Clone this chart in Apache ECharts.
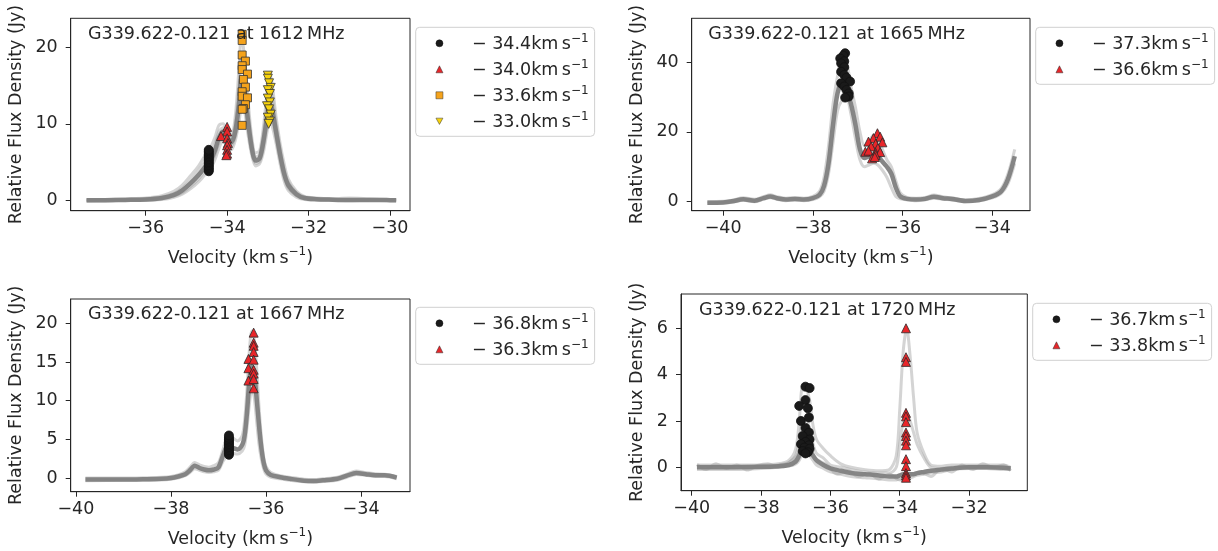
<!DOCTYPE html>
<html><head><meta charset="utf-8">
<script src="https://cdn.jsdelivr.net/npm/echarts@6/dist/echarts.min.js"></script>
<style>html,body{margin:0;padding:0;background:#fff}#c{width:1218px;height:551px}</style>
</head><body><div id="c"></div>
<script>
// ---------- Panel 1: 1612 MHz ----------
const v1 = [-37.45,-37.0,-36.5,-36.0,-35.6,-35.3,-35.1,-34.9,-34.7,-34.55,-34.4,-34.3,-34.2,-34.1,-34.0,-33.9,-33.8,-33.7,-33.65,-33.6,-33.5,-33.4,-33.3,-33.2,-33.1,-33.0,-32.95,-32.9,-32.8,-32.7,-32.6,-32.5,-32.3,-32.1,-31.8,-31.5,-31.0,-30.5,-30.0,-29.85];
const p1Mid = [0,0.02,0.05,0.1,0.3,0.7,1.3,2.2,3.3,4.3,5.3,6.5,8.2,9.0,8.3,7.6,9.0,13,16,15.5,11,7,5.2,5.5,8,11.5,12.5,12,9,6,3.5,2,0.8,0.3,0.15,0.1,0.05,0.05,0.02,0];
const p1Hi  = [0.1,0.1,0.2,0.3,0.6,1.2,2.0,3.2,4.5,5.8,7.0,8.2,9.8,10.0,9.2,8.6,11,18,21.7,20,14,8.5,6.2,6.5,10,15,16.3,15.5,11,7.5,4.8,2.8,1.2,0.5,0.3,0.2,0.3,0.2,0.1,0.1];
const p1Q3  = [0.05,0.05,0.1,0.2,0.45,0.9,1.6,2.6,3.9,5.0,6.1,7.3,9.0,9.5,8.8,8.1,10,15.5,19,17.8,12.5,7.8,5.7,6.0,9.0,13.2,14.4,13.8,10,6.8,4.1,2.4,1.0,0.4,0.2,0.15,0.1,0.1,0.05,0.05];
const p1Q1  = [-0.05,0,0.02,0.05,0.2,0.55,1.0,1.8,2.8,3.8,4.7,5.9,7.5,8.4,7.7,7.1,8.4,11.8,14,13.8,10,6.5,4.8,5.1,7.2,10.5,11.3,10.9,8.2,5.4,3.0,1.6,0.6,0.2,0.1,0.05,0,0.02,0,-0.02];
const p1Lo  = [-0.1,-0.1,0,0,0.1,0.4,0.8,1.5,2.4,3.3,4.2,5.3,6.8,7.8,7.2,6.6,7.8,10.5,12,12,9,6,4.5,4.8,6.5,9.5,10.2,9.8,7.5,4.8,2.5,1.3,0.4,0.1,0,0,-0.05,0,-0.05,-0.05];
const p1Circ = [[-34.45,3.8],[-34.45,4.0],[-34.45,4.2],[-34.45,4.4],[-34.45,4.6],[-34.45,4.8],[-34.45,5.0],[-34.45,5.2],[-34.45,5.4],[-34.45,5.6],[-34.45,5.8],[-34.45,6.0],[-34.45,6.2],[-34.45,6.4],[-34.45,6.6]];
const p1Tri = [[-34.0,9.6],[-34.0,9.0],[-34.15,8.4],[-34.0,8.1],[-33.98,7.5],[-34.0,7.2],[-34.0,6.6],[-34.0,6.1],[-34.02,5.9]];
const p1Sq = [[-33.63,21.7],[-33.63,20.9],[-33.63,19.0],[-33.55,18.2],[-33.63,17.6],[-33.63,17.1],[-33.5,16.5],[-33.6,15.8],[-33.55,14.8],[-33.63,14.2],[-33.63,13.6],[-33.5,13.4],[-33.55,12.5],[-33.6,12.0],[-33.63,11.9],[-33.63,9.8]];
const p1Down = [[-33.0,16.3],[-33.0,15.9],[-32.97,15.3],[-32.93,14.7],[-33.0,14.4],[-32.95,13.9],[-33.0,13.3],[-32.95,12.8],[-33.02,12.3],[-32.97,11.9],[-32.93,11.2],[-33.0,10.8],[-32.95,10.3],[-32.98,10.0]];
const p1Names = ['\u221234.4','\u221234.0','\u221233.6','\u221233.0'];
const p1XTicks = [-36,-34,-32,-30];
const p1YTicks = [0,10,20];

// ---------- Panel 2: 1665 MHz ----------
const v2 = [-40.35,-40.0,-39.8,-39.55,-39.3,-39.1,-38.95,-38.8,-38.6,-38.4,-38.2,-38.0,-37.85,-37.75,-37.65,-37.55,-37.45,-37.35,-37.25,-37.15,-37.05,-36.95,-36.85,-36.75,-36.65,-36.55,-36.45,-36.35,-36.25,-36.15,-36.05,-35.9,-35.7,-35.5,-35.3,-35.1,-34.9,-34.6,-34.3,-34.0,-33.8,-33.65,-33.5];
const p2Mid = [-0.3,-0.2,0.1,0.7,0.3,1.0,1.5,1.0,0.6,0.8,0.6,1.0,2.0,4.5,11,22,31,34,32,28,22,15,12.5,13,13.5,13,11.5,10,8,4,1.5,0.8,0.6,0.8,1.4,1.0,0.8,0.2,0.5,1.5,3.0,6.5,13];
const p2Hi  = [0,0.1,0.4,1.1,0.7,1.4,2.0,1.4,1.0,1.2,1.0,1.5,3.0,7.0,16,28,36,42,40,33,27,20,16,17,19,18.5,15,12,10,6,2.5,1.2,1.0,1.2,1.9,1.4,1.1,0.5,0.9,2.0,3.8,8.0,15];
const p2Lo  = [-0.5,-0.4,-0.2,0.4,0.0,0.7,1.1,0.7,0.3,0.5,0.3,0.6,1.4,3.0,8,17,26,29,29.5,25,18,12,10,10.5,11,10.5,9,7,4,1.5,0.8,0.5,0.3,0.5,1.0,0.7,0.5,0,0.2,1.1,2.4,5.2,11];
const p2Circ = [[-37.28,42.5],[-37.32,41.8],[-37.39,41.0],[-37.3,40.2],[-37.37,39.6],[-37.3,38.5],[-37.37,37.2],[-37.3,36.3],[-37.25,35.5],[-37.37,33.9],[-37.17,34.4],[-37.3,33.0],[-37.25,32.0],[-37.2,31.0],[-37.2,30.1],[-37.28,29.8]];
const p2Tri = [[-36.56,19.6],[-36.65,18.2],[-36.5,18.6],[-36.76,17.2],[-36.45,17.0],[-36.6,16.6],[-36.7,15.8],[-36.55,15.4],[-36.83,14.3],[-36.76,14.6],[-36.6,14.0],[-36.5,14.2],[-36.6,13.4],[-36.68,12.4],[-36.62,12.8]];
const p2Names = ['\u221237.3','\u221236.6'];
const p2XTicks = [-40,-38,-36,-34];
const p2YTicks = [0,20,40];

// ---------- Panel 3: 1667 MHz ----------
const v3 = [-39.8,-39.0,-38.5,-38.2,-38.0,-37.85,-37.7,-37.6,-37.5,-37.4,-37.3,-37.2,-37.1,-37.0,-36.9,-36.8,-36.7,-36.6,-36.5,-36.45,-36.4,-36.35,-36.3,-36.25,-36.2,-36.15,-36.1,-36.05,-36.0,-35.9,-35.7,-35.5,-35.2,-35.0,-34.8,-34.5,-34.3,-34.1,-33.9,-33.7,-33.5,-33.25];
const p3Mid = [-0.2,-0.2,-0.15,-0.1,0,0.2,0.5,1.0,1.6,1.3,1.1,1.0,1.1,1.4,3.0,4.2,3.9,3.7,4.3,5.5,8.5,12.5,14.5,13.5,10.5,7.0,4.0,2.0,1.0,0.4,0.1,-0.1,-0.35,-0.4,-0.3,-0.1,0.3,0.65,0.5,0.35,0.35,0.05];
const p3Hi  = [0,0,0.05,0.1,0.2,0.4,0.8,1.4,2.0,1.7,1.5,1.4,1.6,2.0,3.8,5.5,5.2,4.8,5.5,7.5,11.5,16.5,19.0,18.0,14.5,9.5,5.5,2.8,1.5,0.7,0.3,0.1,-0.15,-0.2,-0.1,0.1,0.5,0.9,0.7,0.55,0.5,0.2];
const p3Lo  = [-0.35,-0.3,-0.3,-0.25,-0.15,0,0.3,0.7,1.2,1.0,0.8,0.7,0.8,1.0,2.2,3.0,3.2,3.1,3.5,4.2,6.5,9.5,11.5,10.5,7.5,4.5,2.5,1.2,0.5,0.1,-0.1,-0.3,-0.5,-0.55,-0.45,-0.3,0.1,0.45,0.35,0.2,0.2,-0.1];
const p3Circ = [[-36.78,3.0],[-36.78,3.2],[-36.78,3.4],[-36.78,3.6],[-36.78,3.8],[-36.78,4.0],[-36.78,4.2],[-36.78,4.4],[-36.78,4.6],[-36.78,4.8],[-36.78,5.0],[-36.78,5.2],[-36.78,5.5]];
const p3Tri = [[-36.26,18.8],[-36.26,17.5],[-36.26,17.1],[-36.26,16.3],[-36.37,15.4],[-36.26,15.3],[-36.37,14.2],[-36.26,14.0],[-36.26,13.5],[-36.37,12.6],[-36.26,12.8],[-36.26,11.6]];
const p3Names = ['\u221236.8','\u221236.3'];
const p3XTicks = [-40,-38,-36,-34];
const p3YTicks = [0,5,10,15,20];

// ---------- Panel 4: 1720 MHz ----------
const v4 = [-39.85,-39.0,-38.0,-37.5,-37.2,-37.0,-36.9,-36.8,-36.7,-36.6,-36.5,-36.4,-36.2,-36.0,-35.7,-35.4,-35.0,-34.6,-34.3,-34.1,-34.0,-33.9,-33.8,-33.7,-33.6,-33.5,-33.3,-33.1,-32.8,-32.5,-32.0,-31.5,-31.0,-30.8];
const p4Mid = [0.0,0.0,0.02,0.05,0.1,0.25,0.5,0.9,1.0,0.8,0.5,0.3,0.1,-0.05,-0.15,-0.25,-0.3,-0.35,-0.4,-0.4,-0.35,-0.3,-0.3,-0.3,-0.3,-0.25,-0.2,-0.15,-0.1,-0.05,0,0,-0.02,-0.05];
const p4Hi  = [0.1,0.1,0.1,0.15,0.3,0.8,2.0,3.5,3.4,2.9,1.8,1.2,0.8,0.5,0.15,0,-0.1,-0.15,-0.1,0.5,2.5,5.0,6.0,4.8,3.0,1.5,0.6,0.1,0.05,0.1,0.1,0.1,0.1,0];
const p4Q3  = [0.05,0.05,0.05,0.1,0.2,0.5,1.2,2.0,2.2,1.6,1.0,0.6,0.4,0.1,0,-0.1,-0.2,-0.25,-0.25,0,1.0,2.0,2.3,2.0,1.5,1.0,0.4,0.0,-0.05,0,0.05,0.05,0,-0.02];
const p4Lo  = [-0.1,-0.1,-0.05,0,0.05,0.15,0.3,0.6,0.65,0.5,0.3,0.1,-0.05,-0.2,-0.3,-0.4,-0.45,-0.5,-0.55,-0.55,-0.5,-0.5,-0.45,-0.45,-0.4,-0.35,-0.3,-0.25,-0.2,-0.1,-0.05,-0.05,-0.1,-0.1];
// one noisy baseline spectrum (read by eye)
const v4n = [-39.85,-39.6,-39.3,-39.0,-38.7,-38.4,-38.1,-37.8,-37.5,-37.2,-37.0,-36.8,-36.6,-36.4,-36.1,-35.8,-35.5,-35.2,-34.9,-34.6,-34.3,-34.0,-33.7,-33.4,-33.1,-32.8,-32.5,-32.2,-31.9,-31.6,-31.3,-31.0,-30.8];
const p4Noise = [0.12,-0.1,0.15,-0.05,0.1,-0.12,0.08,0.15,0.0,0.2,0.45,0.8,0.7,0.35,0.1,-0.3,-0.15,-0.4,-0.25,-0.5,-0.3,-0.55,-0.35,-0.2,-0.4,-0.05,-0.2,0.1,-0.1,0.15,0.0,0.1,-0.15];
const p4Circ = [[-36.72,3.48],[-36.6,3.42],[-36.72,2.9],[-36.9,2.65],[-36.65,2.55],[-36.85,2.0],[-36.62,2.15],[-36.72,1.7],[-36.62,1.5],[-36.8,1.35],[-36.6,1.2],[-36.72,1.1],[-36.85,1.0],[-36.62,0.95],[-36.75,0.85],[-36.6,0.8],[-36.8,0.7],[-36.65,0.65],[-36.72,0.6]];
const p4Tri = [[-33.82,6.0],[-33.82,4.75],[-33.82,4.55],[-33.82,2.35],[-33.82,2.2],[-33.82,1.95],[-33.82,1.5],[-33.82,1.35],[-33.82,1.15],[-33.82,0.95],[-33.82,0.35],[-33.82,0.05],[-33.82,-0.25],[-33.82,-0.35],[-33.82,-0.45]];
const p4Names = ['\u221236.7','\u221233.8'];
const p4XTicks = [-40,-38,-36,-34,-32];
const p4YTicks = [0,2,4,6];

const titles = ['G339.622-0.121 at 1612\u2009MHz','G339.622-0.121 at 1665\u2009MHz','G339.622-0.121 at 1667\u2009MHz','G339.622-0.121 at 1720\u2009MHz'];
</script>
<script>
const FONT = 'DejaVu Sans', TXT = '#262626', FS = 17.5;
const DOWN = 'path://M0,0L10,0L5,9Z';
const STY = {
  circ: {symbol:'circle', size:9, color:'#1a1a1a', border:'#111'},
  tri:  {symbol:'triangle', size:9, color:'#e8262a', border:'#2a2a2a'},
  sq:   {symbol:'rect', size:8, color:'#f5a31c', border:'#333'},
  down: {symbol:DOWN, size:9, color:'#f7d30c', border:'#333'}
};
const panels = [
  {grid:{left:70.7,top:18.3,width:339.3,height:192.4}, x:[-37.84,-29.51], y:[-1.36,23.8], xt:p1XTicks, yt:p1YTicks,
   title:[88,25], leg:[415.7,27.3], yGap:45, traces:[[v1,p1Lo],[v1,p1Hi],[v1,p1Q1],[v1,p1Q3],[v1,p1Mid]],
   marks:[[p1Circ,'circ'],[p1Tri,'tri'],[p1Sq,'sq'],[p1Down,'down']], names:p1Names},
  {grid:{left:691.7,top:18.3,width:338.3,height:192.4}, x:[-40.70,-33.16], y:[-2.58,52.5], xt:p2XTicks, yt:p2YTicks,
   title:[708.3,25], leg:[1035.7,27.3], yGap:45.5, traces:[[v2,p2Lo],[v2,p2Hi],[v2,p2Mid]],
   marks:[[p2Circ,'circ'],[p2Tri,'tri']], names:p2Names},
  {grid:{left:70.7,top:299,width:339.3,height:192.7}, x:[-40.11,-32.97], y:[-1.77,23.15], xt:p3XTicks, yt:p3YTicks,
   title:[88,305], leg:[415.7,307.3], yGap:45, traces:[[v3,p3Lo],[v3,p3Hi],[v3,p3Mid]],
   marks:[[p3Circ,'circ'],[p3Tri,'tri']], names:p3Names},
  {grid:{left:681,top:294,width:346.3,height:196.7}, x:[-40.31,-30.32], y:[-1.01,7.48], xt:p4XTicks, yt:p4YTicks,
   title:[699,301.7], leg:[1032.7,303.3], yGap:35, traces:[[v4,p4Lo],[v4,p4Hi],[v4,p4Q3],[v4n,p4Noise],[v4,p4Mid]],
   marks:[[p4Circ,'circ'],[p4Tri,'tri']], names:p4Names}
];
const fmt = v => (v < 0 ? '\u2212' : '') + Math.abs(v);
const option = {
  animation:false, backgroundColor:'#fff',
  textStyle:{fontFamily:FONT, color:TXT},
  grid:[], xAxis:[], yAxis:[], title:[], legend:[], series:[]
};
panels.forEach((p, i) => {
  option.grid.push(Object.assign({show:true, borderColor:TXT, borderWidth:1, backgroundColor:'transparent', containLabel:false}, p.grid));
  option.xAxis.push({type:'value', gridIndex:i, min:p.x[0], max:p.x[1],
    axisLine:{show:true, onZero:false, lineStyle:{color:TXT, width:1}},
    axisTick:{show:true, length:5, customValues:p.xt, lineStyle:{color:TXT}},
    axisLabel:{customValues:p.xt, formatter:fmt, fontSize:FS, color:TXT, margin:9, fontFamily:FONT},
    splitLine:{show:false},
    name:'{a|Velocity (km\u2009s}{b|\u22121}{a|)}', nameLocation:'middle', nameGap:35,
    nameTextStyle:{rich:{a:{fontSize:FS, color:TXT, fontFamily:FONT, lineHeight:22, verticalAlign:'bottom'},
                         b:{fontSize:12, color:TXT, fontFamily:FONT, lineHeight:22, verticalAlign:'top'}}}
  });
  option.yAxis.push({type:'value', gridIndex:i, min:p.y[0], max:p.y[1],
    axisLine:{show:true, onZero:false, lineStyle:{color:TXT, width:1}},
    axisTick:{show:true, length:5, customValues:p.yt, lineStyle:{color:TXT}},
    axisLabel:{customValues:p.yt, formatter:fmt, fontSize:FS, color:TXT, margin:13, fontFamily:FONT},
    splitLine:{show:false},
    name:'Relative Flux Density (Jy)', nameLocation:'middle', nameGap:p.yGap,
    nameTextStyle:{fontSize:FS, color:TXT, fontFamily:FONT}
  });
  option.title.push({text:titles[i], left:p.title[0], top:p.title[1], padding:0,
    textStyle:{fontSize:FS, fontWeight:'normal', color:TXT, fontFamily:FONT}});
  // gray spectra
  p.traces.forEach((tr, k) => {
    const core = k === p.traces.length - 1;
    option.series.push({type:'line', xAxisIndex:i, yAxisIndex:i, showSymbol:false, symbol:'none',
      smooth:0.3, silent:true, z:1,
      lineStyle:{color: core ? '#808080' : '#a0a0a0', width: core ? 4.5 : 3, opacity: core ? 0.95 : 0.45},
      data: tr[0].map((v, j) => [v, tr[1][j]])});
  });
  // markers
  p.marks.forEach((m, k) => {
    const s = STY[m[1]];
    option.series.push({type:'scatter', name:p.names[k], xAxisIndex:i, yAxisIndex:i, z:3,
      symbol:s.symbol, symbolSize:s.size,
      itemStyle:{color:s.color, borderColor:s.border, borderWidth:0.8, opacity:1},
      data:m[0]});
  });
  option.legend.push({orient:'vertical', left:p.leg[0], top:p.leg[1],
    padding:[6,6,5,20], itemGap:6, itemWidth:7, itemHeight:7,
    borderColor:'#d0d0d0', borderWidth:1, borderRadius:4, backgroundColor:'#fff', selectedMode:false,
    itemStyle:{borderWidth:0.5},
    data:p.names.map((n, k) => ({name:n, icon:STY[p.marks[k][1]].symbol})),
    formatter: n => '{s| }{t|' + n.replace('\u2212', '\u2212 ') + 'km\u2009s}{u|\u22121}',
    textStyle:{rich:{
      s:{width:24, fontSize:FS, lineHeight:20},
      t:{fontSize:FS, color:TXT, fontFamily:FONT, lineHeight:20, verticalAlign:'bottom'},
      u:{fontSize:12, color:TXT, fontFamily:FONT, lineHeight:20, verticalAlign:'top'}}}
  });
});
const chart = echarts.init(document.getElementById('c'), null, {renderer:'canvas'});
chart.setOption(option);
</script>
</body></html>
